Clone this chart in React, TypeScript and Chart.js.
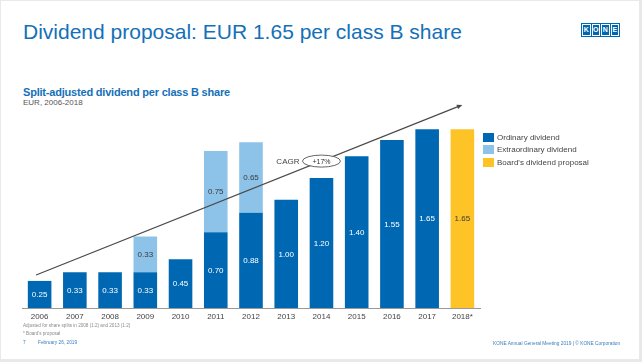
import React, { useEffect, useRef } from "react";
import { Chart, registerables } from "chart.js";

Chart.register(...registerables);

const categories = ["2006", "2007", "2008", "2009", "2010", "2011", "2012", "2013", "2014", "2015", "2016", "2017", "2018*"];
const ordinary = [0.25, 0.33, 0.33, 0.33, 0.45, 0.7, 0.88, 1.0, 1.2, 1.4, 1.55, 1.65, null];
const extraordinary = [null, null, null, 0.33, null, 0.75, 0.65, null, null, null, null, null, null];
const proposal = [null, null, null, null, null, null, null, null, null, null, null, null, 1.65];
const seriesNames = ["Ordinary dividend", "Extraordinary dividend", "Board's dividend proposal"];
const seriesColors = ["#0068b3", "#8dc3e8", "#fec327"];
const labelColors = ["#ffffff", "#3a3a3a", "#3a3a3a"];
const trendStart = { index: -0.1, value: 0.305 };
const trendEnd = { index: 12, value: 1.875 };
const cagrIndex = 8;
const cagrText = "CAGR";
const cagrValue = "+17%";

const FONT = "'Liberation Sans', Arial, Helvetica, sans-serif";

const valueLabelPlugin = {
  id: "valueLabels",
  afterDatasetsDraw(chart: any) {
    const ctx = chart.ctx;
    ctx.save();
    ctx.font = `8px ${FONT}`;
    ctx.textAlign = "center";
    ctx.textBaseline = "middle";
    chart.data.datasets.forEach((ds: any, di: number) => {
      const meta = chart.getDatasetMeta(di);
      meta.data.forEach((el: any, i: number) => {
        const v = ds.data[i];
        if (v == null || v === 0) return;
        ctx.fillStyle = labelColors[di];
        const y = (el.y + el.base) / 2;
        ctx.fillText(Number(v).toFixed(2), el.x, y + 0.5);
      });
    });
    ctx.restore();
  },
};

const trendPlugin = {
  id: "trendArrow",
  afterDatasetsDraw(chart: any) {
    const ctx = chart.ctx;
    const xs = chart.scales.x;
    const ys = chart.scales.y;
    const x1 = xs.getPixelForValue(trendStart.index);
    const y1 = ys.getPixelForValue(trendStart.value);
    const x2 = xs.getPixelForValue(trendEnd.index);
    const y2 = ys.getPixelForValue(trendEnd.value);
    const ang = Math.atan2(y2 - y1, x2 - x1);
    const head = 6;
    ctx.save();
    ctx.strokeStyle = "#4a4a4a";
    ctx.fillStyle = "#4a4a4a";
    ctx.lineWidth = 1.2;
    ctx.beginPath();
    ctx.moveTo(x1, y1);
    ctx.lineTo(x2 - Math.cos(ang) * head * 0.8, y2 - Math.sin(ang) * head * 0.8);
    ctx.stroke();
    ctx.beginPath();
    ctx.moveTo(x2, y2);
    ctx.lineTo(x2 - head * Math.cos(ang - 0.4), y2 - head * Math.sin(ang - 0.4));
    ctx.lineTo(x2 - head * Math.cos(ang + 0.4), y2 - head * Math.sin(ang + 0.4));
    ctx.closePath();
    ctx.fill();

    const cx = xs.getPixelForValue(cagrIndex);
    const t = (cx - x1) / (x2 - x1);
    const cy = y1 + t * (y2 - y1);
    ctx.beginPath();
    ctx.ellipse(cx, cy, 19, 6, 0, 0, Math.PI * 2);
    ctx.fillStyle = "#ffffff";
    ctx.fill();
    ctx.strokeStyle = "#555555";
    ctx.lineWidth = 0.9;
    ctx.stroke();
    ctx.fillStyle = "#333333";
    ctx.font = `7px ${FONT}`;
    ctx.textAlign = "center";
    ctx.textBaseline = "middle";
    ctx.fillText(cagrValue, cx, cy + 0.5);
    ctx.font = `8px ${FONT}`;
    ctx.textAlign = "right";
    ctx.fillStyle = "#444444";
    ctx.fillText(cagrText, cx - 22, cy + 0.5);
    ctx.restore();
  },
};

function ChartCanvas() {
  const ref = useRef<HTMLCanvasElement | null>(null);
  useEffect(() => {
    if (!ref.current) return;
    const series = [ordinary, extraordinary, proposal];
    const chart = new Chart(ref.current, {
      type: "bar",
      data: {
        labels: categories,
        datasets: series.map((d, i) => ({
          label: seriesNames[i],
          data: d,
          backgroundColor: seriesColors[i],
          borderWidth: 0,
          categoryPercentage: 1,
          barPercentage: 0.67,
        })),
      },
      options: {
        animation: false,
        responsive: false,
        maintainAspectRatio: false,
        devicePixelRatio: 1,
        layout: { padding: { left: 22, right: 162, top: 100, bottom: 34 } },
        plugins: { legend: { display: false }, tooltip: { enabled: false }, title: { display: false } },
        scales: {
          x: {
            stacked: true,
            offset: true,
            grid: { display: false, drawTicks: false },
            border: { display: true, color: "#9a9a9a", width: 1 },
            ticks: { color: "#444444", font: { family: FONT, size: 8 }, padding: 4, maxRotation: 0, autoSkip: false },
            afterFit: (scale: any) => {
              scale.height = 20;
            },
          },
          y: {
            stacked: true,
            display: false,
            min: 0,
            max: 1.92,
          },
        },
      },
      plugins: [trendPlugin, valueLabelPlugin],
    } as any);
    return () => chart.destroy();
  }, []);
  return <canvas ref={ref} width={642} height={362} style={{ position: "absolute", left: 0, top: 0, width: 642, height: 362 }} />;
}

function Logo() {
  const letters = ["K", "O", "N", "E"];
  return (
    <div
      style={{
        position: "absolute",
        left: 581,
        top: 23,
        width: 39,
        height: 14,
        background: "#0068b3",
        display: "flex",
        boxSizing: "border-box",
        padding: 1,
        gap: 1,
      }}
    >
      {letters.map((l) => (
        <div
          key={l}
          style={{
            flex: 1,
            border: "0.8px solid #ffffff",
            color: "#ffffff",
            fontFamily: FONT,
            fontWeight: 700,
            fontSize: 7,
            lineHeight: "10px",
            textAlign: "center",
          }}
        >
          {l}
        </div>
      ))}
    </div>
  );
}

export default function App() {
  const abs = (left: number, top: number, size: number, color: string, extra: any = {}) => ({
    position: "absolute" as const,
    left,
    top,
    fontSize: size,
    lineHeight: `${size}px`,
    color,
    fontFamily: FONT,
    whiteSpace: "nowrap" as const,
    ...extra,
  });
  return (
    <div style={{ position: "fixed", left: 0, top: 0, width: 642, height: 362, background: "#e9e9e9", overflow: "hidden" }}>
      <div style={{ position: "absolute", left: 1, top: 1, width: 638, height: 358, background: "#ffffff" }} />
      <div style={abs(23, 20.5, 21, "#1470b8")}>Dividend proposal: EUR 1.65 per class B share</div>
      <Logo />
      <div style={abs(23, 87.3, 11, "#1470b8", { fontWeight: 700, letterSpacing: "-0.2px" })}>Split-adjusted dividend per class B share</div>
      <div style={abs(23, 99.2, 8, "#555555")}>EUR, 2006-2018</div>
      <ChartCanvas />
      {seriesNames.map((n, i) => (
        <div key={n} style={{ position: "absolute", left: 483, top: 132.5 + i * 12.5, height: 9, display: "flex", alignItems: "center" }}>
          <div style={{ width: 11, height: 9, background: seriesColors[i], marginRight: 3 }} />
          <span style={{ fontFamily: FONT, fontSize: 8, color: "#444444", lineHeight: "9px", whiteSpace: "nowrap" }}>{n}</span>
        </div>
      ))}
      <div style={abs(23, 323.5, 4.6, "#8a8a8a")}>Adjusted for share splits in 2008 (1:2) and 2013 (1:2)</div>
      <div style={abs(23, 331.5, 4.6, "#8a8a8a")}>* Board's proposal</div>
      <div style={abs(23, 341, 4.8, "#3a7dbf")}>7</div>
      <div style={abs(38, 341, 4.8, "#3a7dbf")}>February 26, 2019</div>
      <div style={abs(493, 341.5, 4.8, "#3a7dbf")}>KONE Annual General Meeting 2019 | © KONE Corporation</div>
    </div>
  );
}
